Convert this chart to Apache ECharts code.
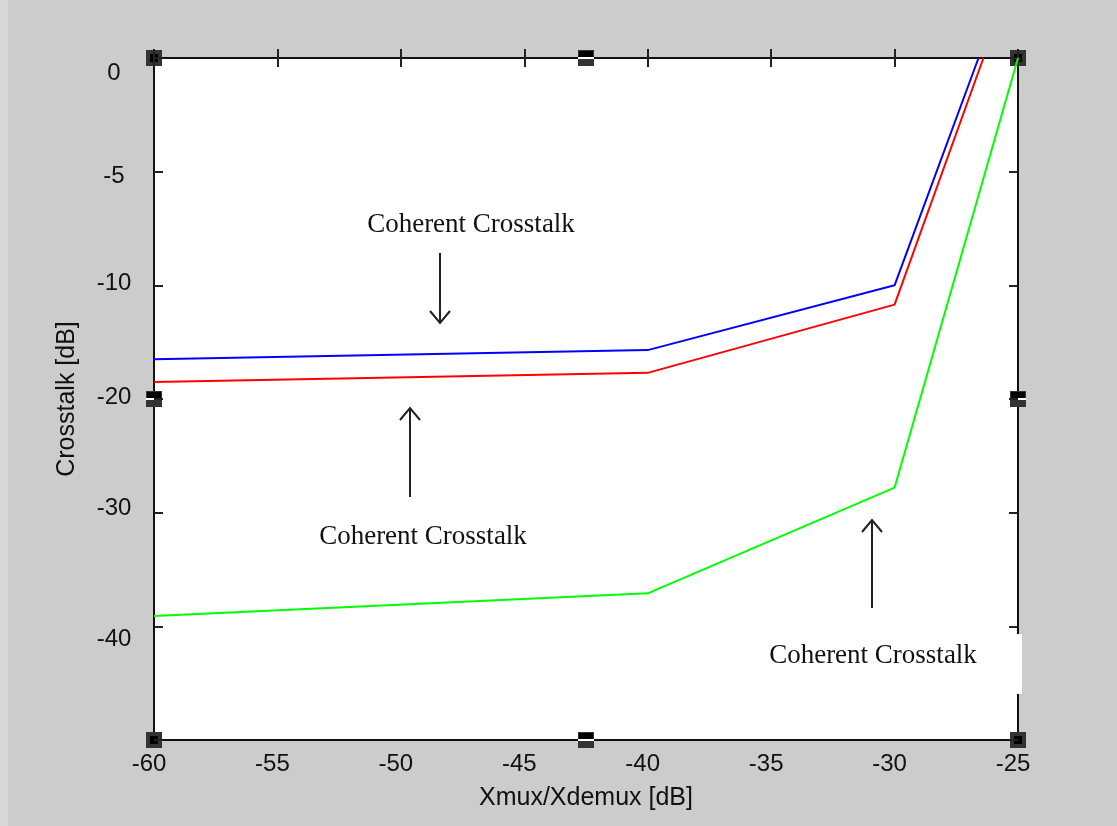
<!DOCTYPE html>
<html>
<head>
<meta charset="utf-8">
<script src="https://cdn.jsdelivr.net/npm/echarts@6/dist/echarts.min.js"></script>
<style>
html,body{margin:0;padding:0;background:#cccccc;}
#chart{width:1117px;height:826px;}
</style>
</head>
<body>
<div id="chart"></div>
<script>
// X axis (Xmux/Xdemux [dB])
const xTicks = [-60, -55, -50, -45, -40, -35, -30, -25];
// Y axis tick labels (Crosstalk [dB]) as printed, evenly spaced on the axis
const yTickLabels = [0, -5, -10, -20, -30, -40, -50];

// Series (x in dB, crosstalk in dB as read against the printed ticks)
const blueX = [-60, -40, -30, -26.6];
const blueY = [-16.5, -15.7, -10.0, 0];
const redX = [-60, -40, -30, -26.4];
const redY = [-18.5, -17.7, -11.7, 0];
const greenX = [-60, -40, -30, -25];
const greenY = [-39.1, -37.1, -27.8, 0];

const annotationText = 'Coherent Crosstalk';

// map a printed crosstalk value onto the evenly spaced axis (tick i sits at -10*i)
function toAxis(db) {
  for (let i = 0; i < yTickLabels.length - 1; i++) {
    const a = yTickLabels[i], b = yTickLabels[i + 1];
    if (db <= a && db >= b) return -10 * (i + (a - db) / (a - b));
  }
  return -60;
}
function pairs(xs, ys) { return xs.map((x, i) => [x, toAxis(ys[i])]); }

const G = {l: 154, t: 58, r: 1018, b: 740};
const chart = echarts.init(document.getElementById('chart'));

function handle(cx, cy, mid) {
  const els = [{type: 'rect', shape: {x: cx - 8, y: cy - 8, width: 16, height: 16}, style: {fill: '#333'}}];
  if (mid) {
    els.push({type: 'rect', shape: {x: cx - 7, y: cy - 7, width: 14, height: 6}, style: {fill: '#000'}});
    els.push({type: 'rect', shape: {x: cx - 8, y: cy - 1, width: 16, height: 2}, style: {fill: '#fff'}});
  } else {
    els.push({type: 'rect', shape: {x: cx - 4, y: cy - 4, width: 8, height: 8}, style: {fill: '#000'}});
  }
  return {type: 'group', z: 100, children: els};
}
function arrow(x, y1, y2) {
  const dir = y2 > y1 ? -1 : 1; // head at y2
  return {type: 'group', z: 50, children: [
    {type: 'line', shape: {x1: x, y1: y1, x2: x, y2: y2}, style: {stroke: '#222', lineWidth: 2}},
    {type: 'polyline', shape: {points: [[x - 10, y2 + dir * 12], [x, y2], [x + 10, y2 + dir * 12]]}, style: {stroke: '#222', lineWidth: 2, fill: null}}
  ]};
}
function annot(cx, cy) {
  return {type: 'text', z: 50, style: {text: annotationText, x: cx, y: cy, align: 'center', verticalAlign: 'middle',
    font: '27px "Liberation Serif", "DejaVu Serif", serif', fill: '#111'}};
}

const yRich = {
  r0: {fontSize: 24, padding: [30, 0, 0, 0]},
  r1: {fontSize: 24, padding: [9, 0, 0, 0]},
  r2: {fontSize: 24, padding: [0, 0, 4, 0]},
  r3: {fontSize: 24, padding: [0, 0, 4, 0]},
  r4: {fontSize: 24, padding: [0, 0, 8, 0]},
  r5: {fontSize: 24, padding: [26, 0, 0, 0]}
};

const option = {
  backgroundColor: '#cccccc',
  animation: false,
  grid: {left: G.l, top: G.t, right: 1117 - G.r, bottom: 826 - G.b, show: true, backgroundColor: '#ffffff', borderColor: '#111', borderWidth: 2},
  xAxis: [{
    type: 'value', min: -60, max: -25, interval: 5, position: 'bottom',
    name: 'Xmux/Xdemux [dB]', nameLocation: 'middle', nameGap: 46,
    nameTextStyle: {fontFamily: '"Liberation Sans", Arial, sans-serif', fontSize: 25, color: '#111'},
    axisLine: {show: false},
    axisTick: {show: true, inside: true, length: 9, lineStyle: {color: '#222', width: 2}},
    splitLine: {show: false},
    axisLabel: {fontFamily: '"Liberation Sans", Arial, sans-serif', fontSize: 24, color: '#111', margin: 12, padding: [0, 10, 0, 0],
      formatter: v => xTicks.indexOf(v) >= 0 ? String(v) : ''}
  }, {
    type: 'value', min: -60, max: -25, interval: 5, position: 'top',
    axisLine: {show: false}, axisLabel: {show: false}, splitLine: {show: false},
    axisTick: {show: true, inside: true, length: 9, lineStyle: {color: '#222', width: 2}}
  }],
  yAxis: [{
    type: 'value', min: -60, max: 0, interval: 10, position: 'left',
    name: 'Crosstalk [dB]', nameLocation: 'middle', nameGap: 74,
    nameTextStyle: {fontFamily: '"Liberation Sans", Arial, sans-serif', fontSize: 25, color: '#111'},
    axisLine: {show: false}, splitLine: {show: false},
    axisTick: {show: true, inside: true, length: 9, lineStyle: {color: '#222', width: 2}},
    axisLabel: {fontFamily: '"Liberation Sans", Arial, sans-serif', fontSize: 24, color: '#111', margin: 40, align: 'center',
      rich: yRich,
      formatter: v => {
        const i = Math.round(-v / 10);
        if (i >= yTickLabels.length - 1) return '';
        return '{r' + i + '|' + yTickLabels[i] + '}';
      }}
  }, {
    type: 'value', min: -60, max: 0, interval: 10, position: 'right',
    axisLine: {show: false}, axisLabel: {show: false}, splitLine: {show: false},
    axisTick: {show: true, inside: true, length: 9, lineStyle: {color: '#222', width: 2}}
  }],
  series: [
    {type: 'line', name: 'blue', data: pairs(blueX, blueY), showSymbol: false, symbol: 'none', lineStyle: {color: '#0000ff', width: 2}, z: 5},
    {type: 'line', name: 'red', data: pairs(redX, redY), showSymbol: false, symbol: 'none', lineStyle: {color: '#ff0000', width: 2}, z: 5},
    {type: 'line', name: 'green', data: pairs(greenX, greenY), showSymbol: false, symbol: 'none', lineStyle: {color: '#00ff00', width: 2}, z: 5}
  ],
  graphic: [
    {type: 'rect', z: -1, shape: {x: 0, y: 0, width: 8, height: 826}, style: {fill: '#d8d8d8'}},
    {type: 'rect', z: 60, shape: {x: 1008, y: 634, width: 14, height: 60}, style: {fill: '#ffffff'}},
    annot(471, 225), arrow(440, 253, 323),
    annot(423, 537), arrow(410, 497, 408),
    annot(873, 656), arrow(872, 608, 520),
    handle(G.l, G.t, false), handle((G.l + G.r) / 2, G.t, true), handle(G.r, G.t, false),
    handle(G.l, (G.t + G.b) / 2, true), handle(G.r, (G.t + G.b) / 2, true),
    handle(G.l, G.b, false), handle((G.l + G.r) / 2, G.b, true), handle(G.r, G.b, false)
  ]
};
chart.setOption(option);
</script>
</body>
</html>
